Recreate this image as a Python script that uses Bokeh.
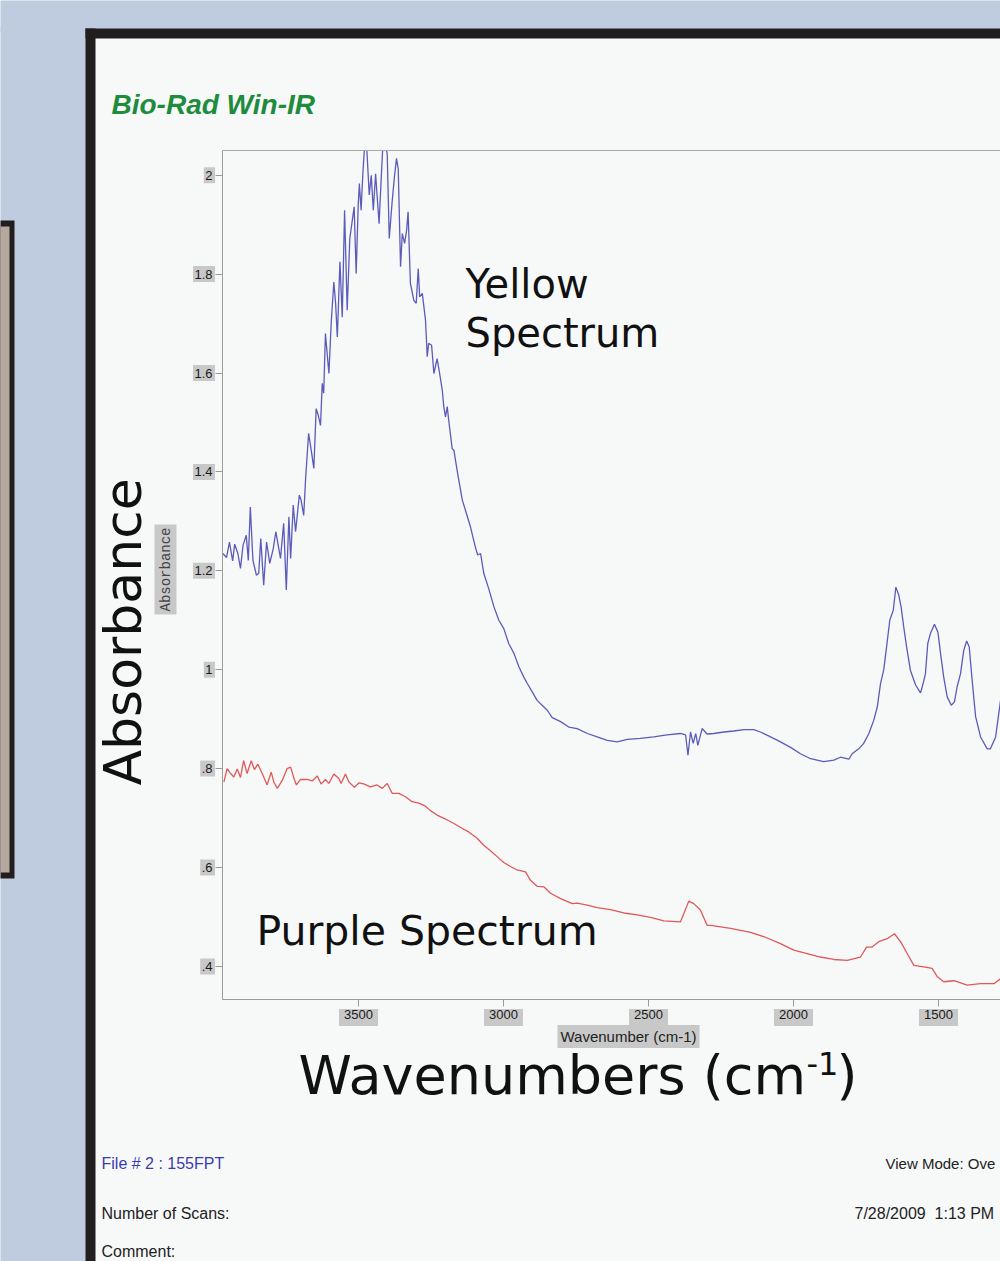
import math
from bokeh.plotting import figure
from bokeh.models import Range1d, FixedTicker, BoxAnnotation, Label
from bokeh.embed import file_html
from bokeh.resources import INLINE

# ---------------- data ----------------
yellow_wn = [3968, 3955, 3945, 3934, 3927, 3916, 3907, 3898, 3887, 3880,
             3873, 3864, 3852, 3844, 3837, 3827, 3817, 3806, 3794, 3785,
             3769, 3758, 3749, 3740, 3734, 3725, 3717, 3704, 3698, 3689,
             3682, 3672, 3662, 3654, 3646, 3639, 3631, 3625, 3620, 3614,
             3608, 3602, 3594, 3585, 3579, 3573, 3564, 3556, 3548, 3539,
             3530, 3522, 3515, 3508, 3501, 3497, 3491, 3485, 3479, 3472,
             3463, 3456, 3449, 3441, 3436, 3429, 3422, 3416, 3408, 3401,
             3394, 3384, 3376, 3369, 3363, 3355, 3349, 3341, 3334, 3329,
             3321, 3309, 3301, 3294, 3289, 3280, 3269, 3263, 3258, 3248,
             3240, 3229, 3221, 3211,
             3206, 3200, 3194, 3189, 3177, 3171, 3160, 3142, 3131, 3114,
             3097, 3089, 3079, 3068, 3051, 3033, 3016, 2999, 2982, 2964,
             2947, 2930, 2918, 2901, 2884, 2867, 2849, 2832, 2803, 2775,
             2746, 2711, 2677, 2642, 2608, 2573, 2528, 2482, 2436, 2390,
             2372, 2364, 2355, 2346, 2337, 2330, 2315, 2298, 2275, 2240,
             2206, 2171, 2137, 2114, 2079, 2045, 2010, 1976, 1941,
             1896, 1861, 1838, 1809, 1798, 1775, 1758, 1740, 1723, 1711,
             1700, 1689, 1679, 1668, 1656, 1647, 1637, 1629, 1620, 1610,
             1597, 1579, 1562, 1553, 1545, 1537, 1528, 1514, 1502, 1493,
             1482, 1470, 1456, 1445, 1436, 1424, 1413, 1403, 1394, 1384,
             1372, 1355, 1332, 1321, 1303, 1286]
yellow_abs = [1.235, 1.227, 1.258, 1.220, 1.254, 1.235, 1.205, 1.252, 1.272, 1.221,
              1.329, 1.221, 1.191, 1.195, 1.265, 1.171, 1.258, 1.215, 1.245, 1.279,
              1.225, 1.296, 1.161, 1.309, 1.225, 1.333, 1.279, 1.353, 1.343, 1.312,
              1.390, 1.478, 1.440, 1.407, 1.528, 1.515, 1.494, 1.579, 1.559, 1.680,
              1.639, 1.599, 1.703, 1.784, 1.741, 1.673, 1.825, 1.713, 1.929, 1.727,
              1.872, 1.906, 1.936, 1.801, 1.939, 1.983, 1.929, 2.003, 2.060, 2.060,
              1.960, 2.000, 1.929, 2.003, 1.960, 1.902, 1.990, 2.060, 2.060, 2.044,
              1.872, 1.946, 1.997, 2.034, 2.013, 1.815, 1.882, 1.862, 1.889, 1.926,
              1.781, 1.747, 1.741, 1.811, 1.754, 1.761, 1.707, 1.633, 1.660, 1.656,
              1.599, 1.629, 1.602, 1.565,
              1.532, 1.511, 1.532, 1.505, 1.447, 1.444, 1.403, 1.343, 1.322, 1.289,
              1.248, 1.232, 1.235, 1.195, 1.164, 1.127, 1.100, 1.083, 1.053, 1.033,
              1.006, 0.985, 0.972, 0.955, 0.938, 0.928, 0.918, 0.903, 0.895, 0.884,
              0.881, 0.871, 0.864, 0.857, 0.854, 0.859, 0.861, 0.864, 0.868, 0.871,
              0.868, 0.827, 0.874, 0.851, 0.871, 0.847, 0.881, 0.870, 0.871, 0.874,
              0.876, 0.879, 0.879, 0.874, 0.864, 0.854, 0.843, 0.830, 0.820,
              0.814, 0.817, 0.823, 0.819, 0.830, 0.840, 0.851, 0.871, 0.898, 0.925,
              0.972, 0.999, 1.046, 1.100, 1.120, 1.167, 1.151, 1.127, 1.087, 1.046,
              0.999, 0.969, 0.953, 0.972, 0.992, 1.053, 1.073, 1.092, 1.076, 1.033,
              0.985, 0.945, 0.928, 0.935, 0.965, 0.992, 1.039, 1.058, 1.046, 0.979,
              0.905, 0.864, 0.840, 0.840, 0.864, 0.938]

purple_wn = [3964, 3953, 3941, 3930, 3918, 3907, 3896, 3884, 3870, 3859,
             3847, 3832, 3815, 3801, 3792, 3780, 3763, 3746, 3734, 3723,
             3714, 3700, 3677, 3660, 3642, 3629, 3614, 3602, 3585, 3568,
             3560, 3545, 3533, 3514, 3499, 3482, 3459, 3436, 3418, 3401,
             3384, 3361, 3338, 3315, 3292, 3269, 3252, 3229, 3200, 3171,
             3148, 3120, 3091, 3068, 3045, 3022, 2999, 2976, 2953, 2924,
             2907, 2884, 2861, 2838, 2803, 2763, 2746, 2711, 2677, 2631,
             2585, 2539, 2493, 2447, 2390, 2378, 2361, 2344, 2321, 2298,
             2286, 2217, 2148, 2097, 2045, 1999, 1953, 1907, 1861, 1815,
             1769, 1748, 1729, 1706, 1677, 1652, 1631, 1608, 1585, 1551,
             1522, 1504, 1482, 1447, 1401, 1355, 1309, 1286]
purple_abs = [0.773, 0.800, 0.790, 0.783, 0.799, 0.782, 0.816, 0.790, 0.816, 0.798,
              0.809, 0.790, 0.767, 0.793, 0.773, 0.760, 0.776, 0.800, 0.803, 0.781,
              0.767, 0.778, 0.778, 0.775, 0.785, 0.769, 0.778, 0.770, 0.789, 0.780,
              0.770, 0.789, 0.773, 0.762, 0.771, 0.769, 0.763, 0.767, 0.760, 0.770,
              0.750, 0.750, 0.743, 0.733, 0.730, 0.724, 0.715, 0.706, 0.698, 0.689,
              0.681, 0.672, 0.659, 0.645, 0.634, 0.622, 0.610, 0.602, 0.595, 0.591,
              0.574, 0.562, 0.561, 0.548, 0.537, 0.527, 0.528, 0.524, 0.519, 0.515,
              0.508, 0.504, 0.499, 0.492, 0.490, 0.507, 0.532, 0.527, 0.514, 0.483,
              0.483, 0.477, 0.469, 0.459, 0.446, 0.433, 0.426, 0.419, 0.414, 0.412,
              0.419, 0.439, 0.439, 0.450, 0.456, 0.466, 0.450, 0.426, 0.402, 0.399,
              0.396, 0.379, 0.369, 0.371, 0.362, 0.365, 0.365, 0.375]

x_ticks = [3500, 3000, 2500, 2000, 1500]
x_tick_labels = ["3500", "3000", "2500", "2000", "1500"]
y_ticks = [0.4, 0.6, 0.8, 1.0, 1.2, 1.4, 1.6, 1.8, 2.0]
y_tick_labels = [".4", ".6", ".8", "1", "1.2", "1.4", "1.6", "1.8", "2"]

# ---------------- layout constants (page pixels) ----------------
W, H = 1000, 1261
PLOT_L, PLOT_R, PLOT_T, PLOT_B = 222, 1000, 150, 999
WN_PER_PX = 500.0 / 145.0          # 500 cm-1 per 145 px
ABS_PER_PX = 0.2 / 98.9            # 0.2 absorbance per 98.9 px
X_REF_PX, X_REF = 358.0, 3500.0
Y_REF_PX, Y_REF = 174.7, 2.0
BASELINE_K = 0.39                  # label anchor offset (fraction of font size)

PAGE = "#f7f9f9"
BLUE_BG = "#bfccdf"
BLACK = "#221e1f"
BROWN = "#b4a89c"
GRAY_LAB = "#c8c8c8"
AX = "#9a9a9a"


def fx(ix):
    return X_REF - (ix - X_REF_PX) * WN_PER_PX


def fy(iy):
    return Y_REF - (iy - Y_REF_PX) * ABS_PER_PX


p = figure(width=W, height=H, output_backend="svg", toolbar_location=None,
           x_range=Range1d(fx(0), fx(W)), y_range=Range1d(fy(H), fy(0)),
           min_border=0, min_border_left=0, min_border_right=0,
           min_border_top=0, min_border_bottom=0,
           background_fill_color=PAGE, border_fill_color=PAGE,
           outline_line_color=None)
p.xgrid.visible = False
p.ygrid.visible = False

# gray backgrounds behind the tick labels (derived from the tick arrays)
p.rect(x=x_ticks, y=[fy(1017)] * len(x_ticks), width=39, height=17,
       width_units="screen", height_units="screen",
       fill_color=GRAY_LAB, line_color=None)
y_lab_w = [sum(3.6 if c == "." else 7.2 for c in s) + 4 for s in y_tick_labels]
p.rect(x=[fx(214.5 - w / 2.0) for w in y_lab_w], y=y_ticks, width=y_lab_w, height=16,
       width_units="screen", height_units="screen",
       fill_color=GRAY_LAB, line_color=None)

xa = p.xaxis[0]
xa.ticker = FixedTicker(ticks=x_ticks)
xa.major_label_overrides = dict(zip(x_ticks, x_tick_labels))
xa.fixed_location = fy(PLOT_B)
xa.bounds = (fx(PLOT_L), fx(PLOT_R))
ya = p.yaxis[0]
ya.ticker = FixedTicker(ticks=y_ticks)
ya.major_label_overrides = dict(zip(y_ticks, y_tick_labels))
ya.fixed_location = fx(PLOT_L)
ya.bounds = (fy(PLOT_B), fy(PLOT_T))
for ax in (xa, ya):
    ax.axis_line_color = AX
    ax.major_tick_line_color = AX
    ax.minor_tick_line_color = None
    ax.major_tick_out = 7
    ax.major_tick_in = 0
    ax.major_label_text_font = "Liberation Sans"
    ax.major_label_text_font_size = "13px"
    ax.major_label_text_color = "#1a1a1a"
xa.major_label_standoff = 3
ya.major_label_standoff = 3

p.line(yellow_wn, yellow_abs, line_color="#5b5bb9", line_width=1.3)
p.line(purple_wn, purple_abs, line_color="#e05858", line_width=1.3)


def box(ix0, iy0, ix1, iy1, color):
    p.add_layout(BoxAnnotation(left=fx(ix0), right=fx(ix1), top=fy(iy0), bottom=fy(iy1),
                               fill_color=color, fill_alpha=1.0, line_color=None,
                               level="annotation"))


# page area above the plot box (hides peaks running past the plot's top edge)
box(95, 38, 1020, PLOT_T, PAGE)
# top edge of the plot box
box(PLOT_L, PLOT_T - 0.5, 1020, PLOT_T + 0.5, "#a8a8a8")
# slide background outside the page
box(-20, -20, 1020, 32, BLUE_BG)
box(-20, 26, 86, 1280, BLUE_BG)
# black page border
box(85, 28, 95, 1280, BLACK)
box(85, 28, 1020, 38, BLACK)
# small framed box on the left edge
box(-20, 220, 14, 878, BLACK)
box(-20, 226, 9, 872, BROWN)


def label(text, ix, iy, size, font="DejaVu Sans", color="#111111", style="normal",
          align="left", baseline="alphabetic", angle=0.0, bg=None):
    if baseline == "alphabetic":
        if angle == 0.0:
            iy = iy - BASELINE_K * size
        else:
            ix = ix - BASELINE_K * size
    kw = dict(x=fx(ix), y=fy(iy), text=text, text_font=font, text_font_size=f"{size}px",
              text_color=color, text_font_style=style, text_align=align,
              text_baseline=baseline, angle=angle)
    if bg is not None:
        kw["background_fill_color"] = bg
    lab = Label(**kw)
    if bg is not None:
        try:
            lab.padding = 3
        except Exception:
            pass
    p.add_layout(lab)


label("Bio-Rad Win-IR", 111, 115, 28, font="Liberation Sans", color="#1e8b3d",
      style="bold italic")
label("Yellow", 465, 299, 40)
label("Spectrum", 465, 348, 40)
label("Purple Spectrum", 256, 946, 41)
label("Absorbance", 143, 785, 52, angle=math.pi / 2)
label("Absorbance", 165, 569, 14, font="Liberation Mono", color="#444444",
      align="center", baseline="middle", angle=math.pi / 2, bg=GRAY_LAB)
label("Wavenumber (cm-1)", 628, 1036, 15, font="Liberation Sans", color="#222222",
      align="center", baseline="middle", bg=GRAY_LAB)
label("Wavenumbers (cm", 298, 1096, 54)
label("-1", 806, 1075, 32)
label(")", 836, 1096, 54)

FOOT = "Liberation Sans"
label("File # 2 : 155FPT", 101, 1169, 16, font=FOOT, color="#3b3bb0")
label("Number of Scans:", 101, 1219, 16, font=FOOT, color="#222222")
label("Comment:", 101, 1257, 16, font=FOOT, color="#222222")
label("View Mode: Ove", 885, 1169, 15, font=FOOT, color="#222222")
label("7/28/2009\u00a0 1:13 PM", 854, 1219, 16, font=FOOT, color="#222222")

open("out.html", "w").write(file_html(p, INLINE))
